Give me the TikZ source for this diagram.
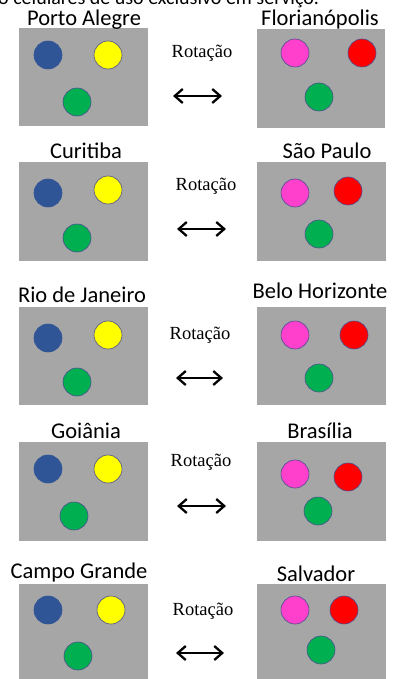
\documentclass[tikz,border=0pt]{standalone}
\usepackage{fontspec}
\setmainfont{Carlito}
\newfontfamily\serifrot{Liberation Serif}
\usetikzlibrary{arrows.meta}
\definecolor{panelgray}{HTML}{A6A6A6}
\definecolor{cblue}{HTML}{2F5597}
\definecolor{cyellow}{HTML}{FFFF00}
\definecolor{cgreen}{HTML}{00B050}
\definecolor{cmag}{HTML}{FF40CC}
\definecolor{cred}{HTML}{FF0000}
\definecolor{cline}{HTML}{4A4F8F}
\tikzset{
  panel/.style={fill=panelgray, draw=none},
  dot/.style={circle, minimum size=28pt, inner sep=0pt, draw=cline, line width=0.6pt},
  title/.style={anchor=base, font=\fontsize{22.5}{24}\selectfont, inner sep=0pt},
  rot/.style={anchor=base, font=\serifrot\fontsize{18.5}{20}\selectfont, inner sep=0pt},
  swap/.style={{Straight Barb[length=8pt,width=14pt]}-{Straight Barb[length=8pt,width=14pt]}, line width=2.3pt},
}
\begin{document}
\begin{tikzpicture}[x=1pt,y=-1pt]
\useasboundingbox (0,0) rectangle (393,679);
\node[anchor=base west, inner sep=0pt, font=\fontsize{20}{22}\selectfont] (top) at (-2,5) {o celulares de uso exclusivo em serviço.};
% row 1
\fill[panel] (19,28) rectangle (148,126);
\fill[panel] (257,29) rectangle (385,128);
\node[title] (t1l) at (84,26) {Porto Alegre};
\node[title] (t1r) at (320,26) {Florianópolis};
\node[rot] (r1) at (202,58) {Rotação};
\node[dot, fill=cblue, draw=cblue] (b1) at (48,55) {};
\node[dot, fill=cyellow] (y1) at (108,55) {};
\node[dot, fill=cgreen] (g1l) at (77,102) {};
\node[dot, fill=cmag] (m1) at (295,53) {};
\node[dot, fill=cred] (red1) at (362,53) {};
\node[dot, fill=cgreen] (g1r) at (319,97) {};
\coordinate (a1l) at (173,96); \coordinate (a1r) at (222,96);
\draw[swap] (a1l) -- (a1r);
% row 2
\fill[panel] (19,162) rectangle (148,261);
\fill[panel] (257,162) rectangle (386,261);
\node[title] (t2l) at (86,159) {Curitiba};
\node[title] (t2r) at (327,158) {São Paulo};
\node[rot] (r2) at (206,190) {Rotação};
\node[dot, fill=cblue, draw=cblue] (b2) at (48,193) {};
\node[dot, fill=cyellow] (y2) at (108,190) {};
\node[dot, fill=cgreen] (g2l) at (77,238) {};
\node[dot, fill=cmag] (m2) at (295,193) {};
\node[dot, fill=cred] (red2) at (348,191) {};
\node[dot, fill=cgreen] (g2r) at (319,234) {};
\coordinate (a2l) at (177,229); \coordinate (a2r) at (226,229);
\draw[swap] (a2l) -- (a2r);
% row 3
\fill[panel] (19,307) rectangle (148,405);
\fill[panel] (257,307) rectangle (386,405);
\node[title] (t3l) at (82,302) {Rio de Janeiro};
\node[title] (t3r) at (320,298) {Belo Horizonte};
\node[rot] (r3) at (200,339) {Rotação};
\node[dot, fill=cblue, draw=cblue] (b3) at (48,338) {};
\node[dot, fill=cyellow] (y3) at (108,335) {};
\node[dot, fill=cgreen] (g3l) at (77,382) {};
\node[dot, fill=cmag] (m3) at (295,335) {};
\node[dot, fill=cred] (red3) at (354,335) {};
\node[dot, fill=cgreen] (g3r) at (319,378) {};
\coordinate (a3l) at (176,378); \coordinate (a3r) at (223,378);
\draw[swap] (a3l) -- (a3r);
% row 4
\fill[panel] (19,442) rectangle (148,541);
\fill[panel] (257,442) rectangle (386,541);
\node[title] (t4l) at (86,438) {Goiânia};
\node[title] (t4r) at (320,438) {Brasília};
\node[rot] (r4) at (201,466) {Rotação};
\node[dot, fill=cblue, draw=cblue] (b4) at (48,469) {};
\node[dot, fill=cyellow] (y4) at (108,469) {};
\node[dot, fill=cgreen] (g4l) at (74,516) {};
\node[dot, fill=cmag] (m4) at (295,474) {};
\node[dot, fill=cred] (red4) at (348,477) {};
\node[dot, fill=cgreen] (g4r) at (318,511) {};
\coordinate (a4l) at (177,506); \coordinate (a4r) at (226,506);
\draw[swap] (a4l) -- (a4r);
% row 5
\fill[panel] (19,584) rectangle (148,679);
\fill[panel] (257,584) rectangle (386,679);
\node[title] (t5l) at (79,578) {Campo Grande};
\node[title] (t5r) at (316,581) {Salvador};
\node[rot] (r5) at (203,615) {Rotação};
\node[dot, fill=cblue, draw=cblue] (b5) at (48,610) {};
\node[dot, fill=cyellow] (y5) at (111,610) {};
\node[dot, fill=cgreen] (g5l) at (78,656) {};
\node[dot, fill=cmag] (m5) at (295,610) {};
\node[dot, fill=cred] (red5) at (344,610) {};
\node[dot, fill=cgreen] (g5r) at (321,650) {};
\coordinate (a5l) at (176,653); \coordinate (a5r) at (224,653);
\draw[swap] (a5l) -- (a5r);
\end{tikzpicture}
\end{document}
